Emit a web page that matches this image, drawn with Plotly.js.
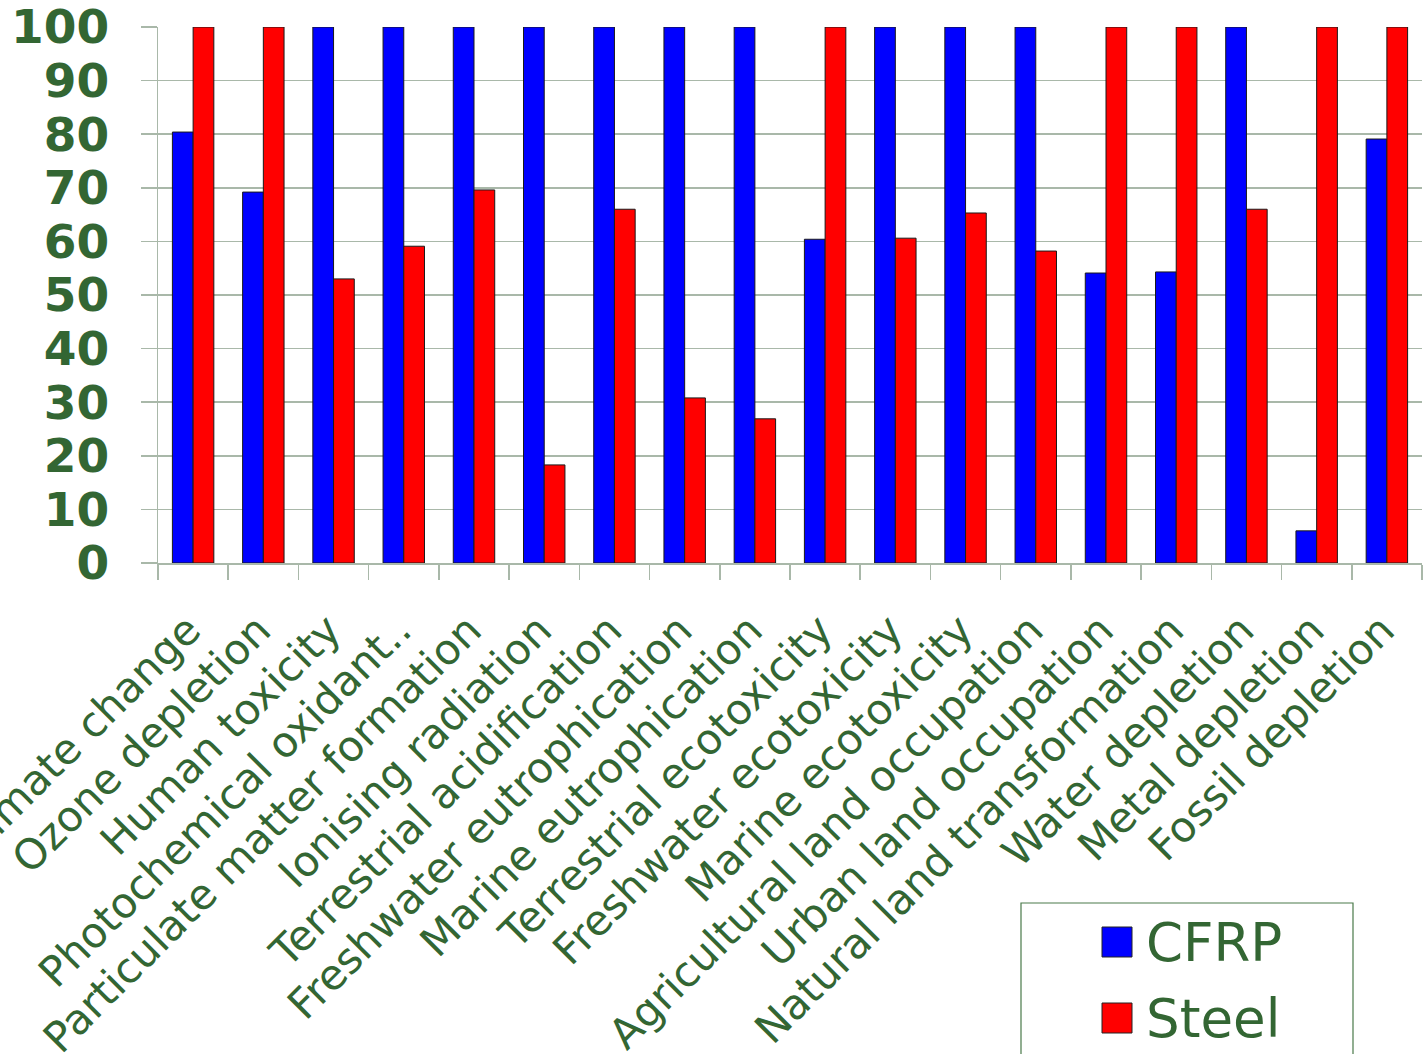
<!DOCTYPE html>
<html>
<head>
<meta charset="utf-8">
<script src="https://cdn.plot.ly/plotly-3.0.1.min.js"></script>
<style>
html,body{margin:0;padding:0;background:#fff;overflow:hidden;}
#chart{width:1426px;height:1054px;}
</style>
</head>
<body>
<div id="chart"></div>
<script>
const categories = [
  "Climate change","Ozone depletion","Human toxicity","Photochemical oxidant..",
  "Particulate matter formation","Ionising radiation","Terrestrial acidification",
  "Freshwater eutrophication","Marine eutrophication","Terrestrial ecotoxicity",
  "Freshwater ecotoxicity","Marine ecotoxicity","Agricultural land occupation",
  "Urban land occupation","Natural land transformation","Water depletion",
  "Metal depletion","Fossil depletion"
];
const seriesNames = ["CFRP", "Steel"];
const cfrpValues  = [80.4, 69.2, 100, 100, 100, 100, 100, 100, 100, 60.4, 100, 100, 100, 54.1, 54.3, 100, 6.0, 79.1];
const steelValues = [100, 100, 53.0, 59.1, 69.6, 18.3, 66.0, 30.8, 26.9, 100, 60.6, 65.3, 58.2, 100, 100, 66.0, 100, 100];
const seriesColors = ["#0000ff", "#ff0000"];
const yTickVals = [0,10,20,30,40,50,60,70,80,90,100];

const green = "#336633";
const gridCol = "#a9b8a9";

const traces = [
  {type:"bar", name:seriesNames[0], x:categories, y:cfrpValues,
   marker:{color:seriesColors[0], line:{color:"#1a1a1a", width:1}}, showlegend:false},
  {type:"bar", name:seriesNames[1], x:categories, y:steelValues,
   marker:{color:seriesColors[1], line:{color:"#1a1a1a", width:1}}, showlegend:false}
];

const px = v => (v-158)/1264;
const py = v => (563-v)/536;

// custom legend: frame, swatches and labels
const shapes = [
  {type:"rect", xref:"paper", yref:"paper", x0:px(1021), x1:px(1353),
   y0:py(1060), y1:py(903), line:{color:"#4a7a4a", width:1.2}, fillcolor:"rgba(0,0,0,0)"},
  {type:"rect", xref:"paper", yref:"paper", x0:px(1102), x1:px(1132),
   y0:py(957), y1:py(927), line:{color:"#222", width:1}, fillcolor:seriesColors[0]},
  {type:"rect", xref:"paper", yref:"paper", x0:px(1102), x1:px(1132),
   y0:py(1033), y1:py(1003), line:{color:"#222", width:1}, fillcolor:seriesColors[1]}
];
const annotations = [
  {xref:"paper", yref:"paper", x:px(1144), y:py(942), xanchor:"left", yanchor:"middle",
   text:seriesNames[0], showarrow:false, font:{family:"DejaVu Sans", size:53, color:green}},
  {xref:"paper", yref:"paper", x:px(1144), y:py(1018), xanchor:"left", yanchor:"middle",
   text:seriesNames[1], showarrow:false, font:{family:"DejaVu Sans", size:53, color:green}}
];

const layout = {
  width:1426, height:1054,
  margin:{l:158, r:4, t:27, b:491, pad:0},
  paper_bgcolor:"#ffffff", plot_bgcolor:"#ffffff",
  barmode:"group", bargap:0.41, bargroupgap:0,
  font:{family:"DejaVu Sans", color:green},
  xaxis:{
    type:"category", tickangle:-45, automargin:false, ticklabeloverflow:"allow",
    tickfont:{family:"DejaVu Sans", size:42, color:green},
    ticks:"outside", tickson:"boundaries", ticklen:15, tickcolor:gridCol, tickwidth:1.5,
    showgrid:false, showline:true, linecolor:gridCol, linewidth:1.5,
    ticklabelstandoff:24, ticklabelshift:-5
  },
  yaxis:{
    range:[0,100], tickvals:yTickVals, ticktext:yTickVals.map(String), automargin:false,
    ticklabeloverflow:"allow",
    tickfont:{family:"DejaVu Sans", size:47, color:green, weight:"bold"},
    ticks:"outside", ticklen:16, tickcolor:gridCol, tickwidth:1.5,
    showgrid:true, gridcolor:gridCol, gridwidth:1.5,
    showline:true, linecolor:gridCol, linewidth:1.5, zeroline:false,
    ticklabelstandoff:22
  },
  shapes:shapes, annotations:annotations,
  showlegend:false
};

Plotly.newPlot("chart", traces, layout, {staticPlot:true, displayModeBar:false});
</script>
</body>
</html>
